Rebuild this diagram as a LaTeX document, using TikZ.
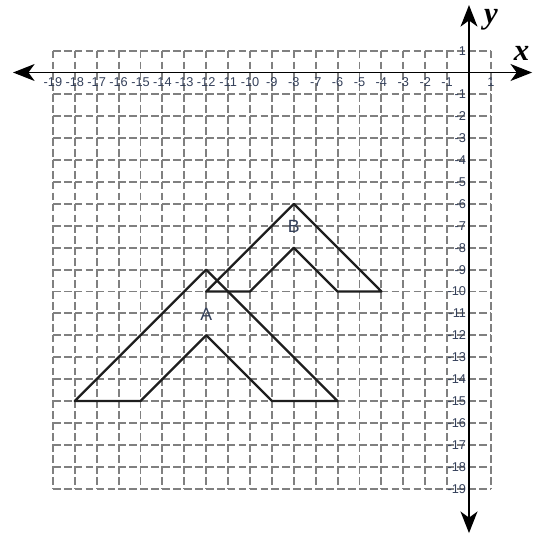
\documentclass[tikz,border=0pt]{standalone}
\usepackage{fontspec}
\setmainfont{Liberation Sans}
\newfontfamily\axisfont{Liberation Serif}
\usetikzlibrary{arrows.meta}
\definecolor{gridgray}{HTML}{808080}
\definecolor{labelcol}{HTML}{34405A}
\definecolor{shapecol}{HTML}{1E1E1E}
\tikzset{
  gridline/.style={draw=gridgray, line width=1.2pt, dash pattern=on 5pt off 2.1pt},
  axisline/.style={draw=black, line width=1pt, -{Stealth[length=14pt,width=11pt,inset=4pt]}},
  figline/.style={draw=shapecol, line width=1.5pt, line join=round},
  ticklab/.style={text=labelcol, font=\fontsize{8.3}{9}\selectfont, inner sep=0.3pt},
  axislab/.style={font=\axisfont\bfseries\itshape\fontsize{20}{22}\selectfont, inner sep=0pt},
  figlab/.style={text=labelcol, font=\fontsize{11.5}{12}\selectfont, inner sep=0pt}
}
\begin{document}
\begin{tikzpicture}[x=0.5cm,y=0.5cm]
\useasboundingbox (-21.416,-21.119) rectangle (3.105,3.311);
% grid
\foreach \i in {-19,...,1} {
  \draw[gridline] (\i,1) -- (\i,-19);
  \draw[gridline] (-19,\i) -- (1,\i);
}
% axes
\coordinate (xl) at (-20.82,0);
\coordinate (xr) at (2.88,0);
\coordinate (yt) at (0,3.08);
\coordinate (yb) at (0,-21.03);
\coordinate (o) at (0,0);
\draw[axisline] (o) -- (xr);
\draw[axisline] (o) -- (xl);
\draw[axisline] (o) -- (yt);
\draw[axisline] (o) -- (yb);
\node[axislab] (xlab) at (2.4,0.85) {x};
\node[axislab] (ylab) at (1.0,2.4) {y};
% tick labels
\foreach \i in {-19,...,-1} {
  \node[ticklab] (tx\i) at (\i,-0.45) {\i};
}
\node[ticklab] (tx1) at (1,-0.45) {1};
\node[ticklab, anchor=east] (ty1) at (-0.1,1) {1};
\foreach \i in {-19,...,-1} {
  \node[ticklab, anchor=east] (ty\i) at (-0.1,\i) {\i};
}
% figure B
\coordinate (b1) at (-8,-6);
\coordinate (b2) at (-4,-10);
\coordinate (b3) at (-6,-10);
\coordinate (b4) at (-8,-8);
\coordinate (b5) at (-10,-10);
\coordinate (b6) at (-12,-10);
\draw[figline] (b1) -- (b2) -- (b3) -- (b4) -- (b5) -- (b6) -- cycle;
\node[figlab] (labB) at (-8,-7.05) {B};
% figure A
\coordinate (a1) at (-12,-9);
\coordinate (a2) at (-6,-15);
\coordinate (a3) at (-9,-15);
\coordinate (a4) at (-12,-12);
\coordinate (a5) at (-15,-15);
\coordinate (a6) at (-18,-15);
\draw[figline] (a1) -- (a2) -- (a3) -- (a4) -- (a5) -- (a6) -- cycle;
\node[figlab] (labA) at (-12,-11.05) {A};
\end{tikzpicture}
\end{document}
